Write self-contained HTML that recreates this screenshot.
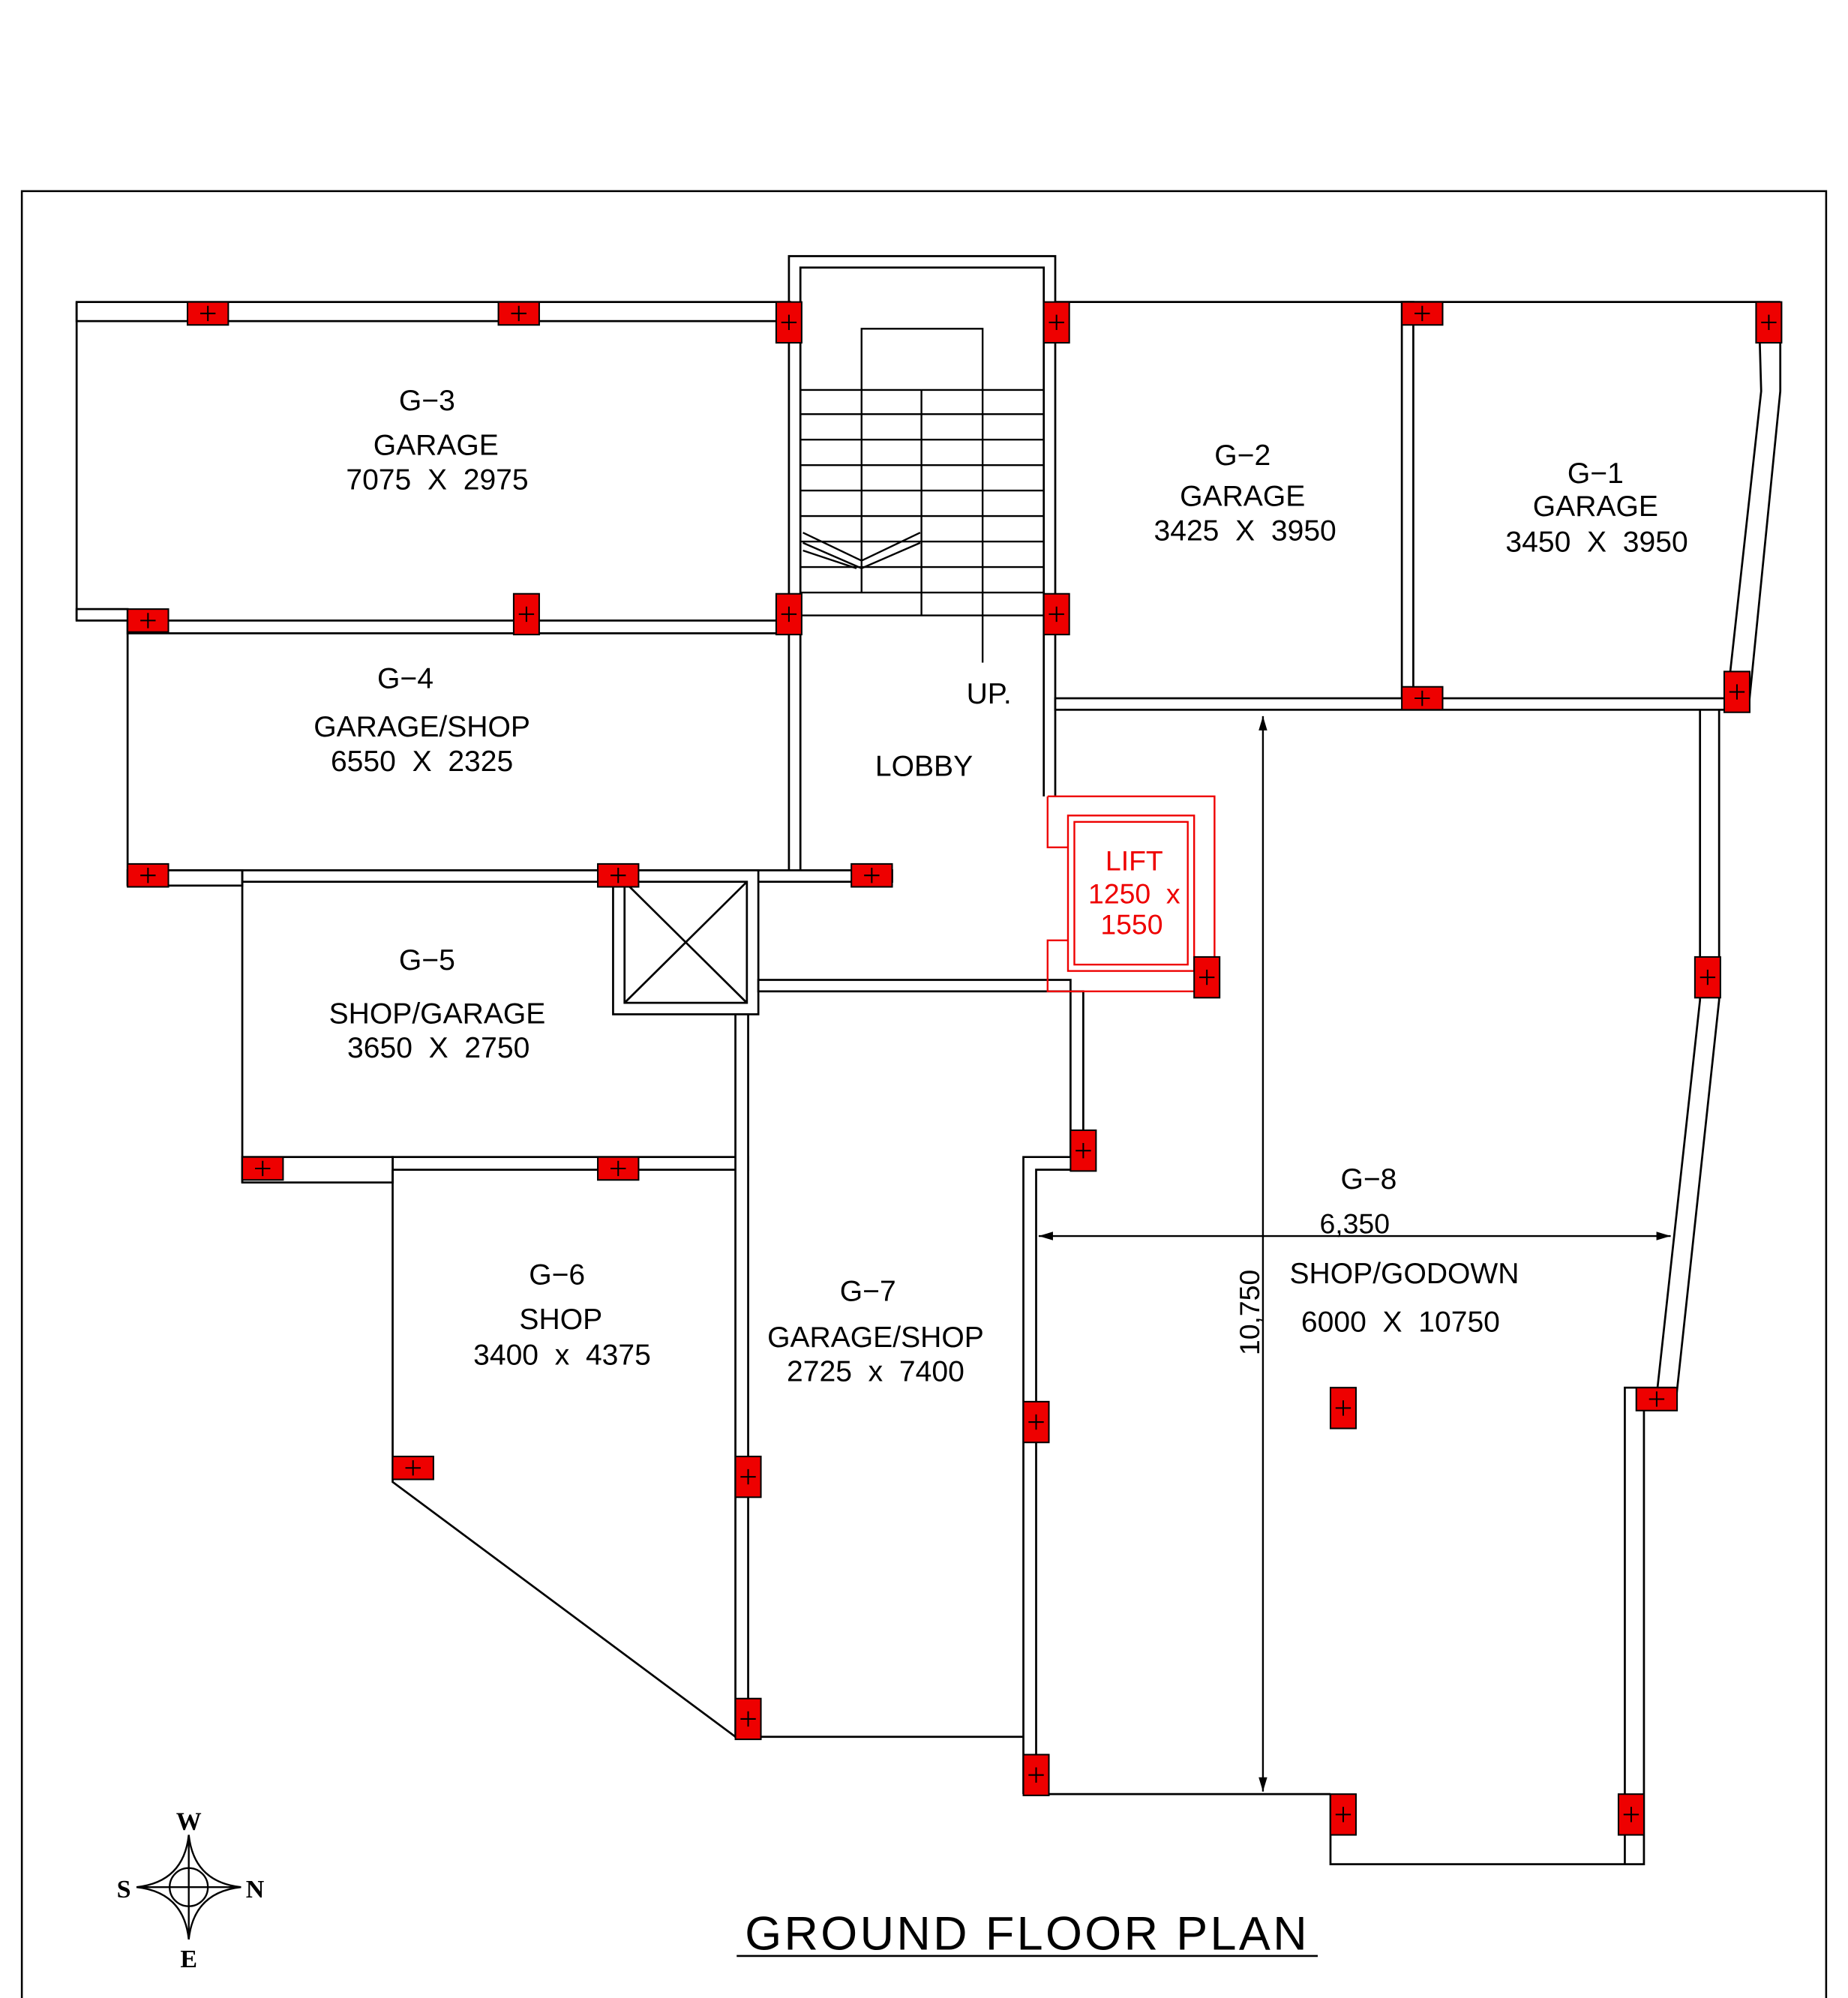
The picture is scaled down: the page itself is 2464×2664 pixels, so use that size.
<!DOCTYPE html>
<html><head><meta charset="utf-8"><style>
html,body{margin:0;padding:0;background:#fff}
svg{display:block}
text{font-family:"Liberation Sans",sans-serif;white-space:pre}
</style></head><body>
<svg width="2464" height="2664" viewBox="0 0 1450 1568" xmlns="http://www.w3.org/2000/svg" xml:space="preserve">
<defs>
<marker id="ar" viewBox="0 0 10 10" refX="10" refY="5" markerWidth="10" markerHeight="8" orient="auto-start-reverse"><path d="M0,2 L10,5 L0,8 z" fill="#000"/></marker>
</defs>
<rect x="17" y="150" width="1416" height="1430" fill="#fff" stroke="#000" stroke-width="1.5"/>
<g fill="#fff" stroke="#000" stroke-width="1.6">
<rect x="60" y="237" width="560" height="15"/>
<line x1="60" y1="237" x2="60" y2="487"/>
<rect x="60" y="478" width="40" height="9"/>
<rect x="100" y="487" width="520" height="10"/>
<path d="M619,683 V201 H828 V625 M628,683 V210 H819 V625" fill="none"/>
<line x1="828" y1="237" x2="1397" y2="237"/>
<rect x="1100" y="237" width="9" height="315"/>
<rect x="828" y="548" width="542" height="9"/>
<path d="M1380,237 L1382,307 L1355,552 M1397,237 L1397,307 L1372,557" fill="none"/>
<line x1="100" y1="487" x2="100" y2="695"/>
<rect x="130" y="683" width="570" height="9"/>
<rect x="100" y="683" width="90" height="12"/>
<rect x="481" y="683" width="114" height="113"/>
<rect x="490" y="692" width="96" height="95"/>
<line x1="490" y1="692" x2="586" y2="787"/><line x1="586" y1="692" x2="490" y2="787"/>
<rect x="595" y="769" width="245" height="9"/>
<line x1="190" y1="683" x2="190" y2="928"/>
<rect x="308" y="908" width="279" height="10"/>
<rect x="190" y="908" width="118" height="20"/>
<path d="M308,918 V1163 L577,1363" fill="none"/>
<rect x="577" y="796" width="10" height="567"/>
<line x1="577" y1="1363" x2="803" y2="1363"/>
<rect x="840" y="778" width="10" height="130"/>
<path d="M803,1408 V908 H850 V918 H813 V1408" fill="none"/>
<line x1="803" y1="1408" x2="1044" y2="1408"/>
<path d="M1044,1408 V1463 H1290 V1089 M1275,1463 V1089 H1315" fill="none"/>
<path d="M1334,557 L1334,785 L1300,1095 M1349,557 L1349,785 L1315,1100" fill="none"/>
</g>
<g stroke="#000" stroke-width="1.4" fill="none">
<path d="M676,306 V258 H771 V520"/>
<path d="M628,306 H819 M628,325 H819 M628,345 H819 M628,365 H819 M628,385 H819 M628,405 H819 M628,425 H819 M628,445 H819 M628,465 H819 M628,483 H819"/>
<line x1="723" y1="306" x2="723" y2="483"/>
<line x1="676" y1="306" x2="676" y2="465"/>
<path d="M630,418 L676,440 L722,418 M630,426 L676,446 L722,426 M630,432 L672,446"/>
</g>
<g stroke="#e00" stroke-width="1.4" fill="none">
<path d="M822,625 H953 V778 H822 V738 H838 M822,625 V665 H838"/>
<rect x="838" y="640" width="99" height="122"/>
<rect x="843" y="645" width="89" height="112"/>
</g>
<text x="890" y="683" font-size="22" fill="#e00" text-anchor="middle">LIFT</text>
<text x="890" y="709" font-size="22" fill="#e00" text-anchor="middle">1250  x</text>
<text x="888" y="733" font-size="22" fill="#e00" text-anchor="middle">1550</text>
<g stroke="#000" stroke-width="1.4">
<line x1="991" y1="562" x2="991" y2="1406" marker-start="url(#ar)" marker-end="url(#ar)"/>
<line x1="815" y1="970" x2="1311" y2="970" marker-start="url(#ar)" marker-end="url(#ar)"/>
</g>
<text x="1063" y="968" font-size="22" text-anchor="middle">6,350</text>
<text transform="translate(988,1030) rotate(-90)" font-size="22" text-anchor="middle">10,750</text>
<g fill="#e00" stroke="#000" stroke-width="1.2">
<rect x="147" y="237" width="32" height="18"/><rect x="391" y="237" width="32" height="18"/>
<rect x="609" y="237" width="20" height="32"/><rect x="819" y="237" width="20" height="32"/>
<rect x="1100" y="237" width="32" height="18"/><rect x="1378" y="237" width="20" height="32"/>
<rect x="100" y="478" width="32" height="18"/><rect x="403" y="466" width="20" height="32"/>
<rect x="609" y="466" width="20" height="32"/><rect x="819" y="466" width="20" height="32"/>
<rect x="1100" y="539" width="32" height="18"/><rect x="1353" y="527" width="20" height="32"/>
<rect x="100" y="678" width="32" height="18"/><rect x="469" y="678" width="32" height="18"/>
<rect x="668" y="678" width="32" height="18"/><rect x="937" y="751" width="20" height="32"/>
<rect x="1330" y="751" width="20" height="32"/>
<rect x="190" y="908" width="32" height="18"/><rect x="469" y="908" width="32" height="18"/>
<rect x="840" y="887" width="20" height="32"/><rect x="803" y="1100" width="20" height="32"/>
<rect x="1044" y="1089" width="20" height="32"/><rect x="1284" y="1089" width="32" height="18"/>
<rect x="308" y="1143" width="32" height="18"/><rect x="577" y="1143" width="20" height="32"/>
<rect x="577" y="1333" width="20" height="32"/><rect x="803" y="1377" width="20" height="32"/>
<rect x="1044" y="1408" width="20" height="32"/><rect x="1270" y="1408" width="20" height="32"/>
</g>
<g stroke="#000" stroke-width="1.2">
<path d="M157,246h12M163,240v12 M401,246h12M407,240v12 M613,253h12M619,247v12 M823,253h12M829,247v12 M1110,246h12M1116,240v12 M1382,253h12M1388,247v12 M110,487h12M116,481v12 M407,482h12M413,476v12 M613,482h12M619,476v12 M823,482h12M829,476v12 M1110,548h12M1116,542v12 M1357,543h12M1363,537v12 M110,687h12M116,681v12 M479,687h12M485,681v12 M678,687h12M684,681v12 M941,767h12M947,761v12 M1334,767h12M1340,761v12 M200,917h12M206,911v12 M479,917h12M485,911v12 M844,903h12M850,897v12 M807,1116h12M813,1110v12 M1048,1105h12M1054,1099v12 M1294,1098h12M1300,1092v12 M318,1152h12M324,1146v12 M581,1159h12M587,1153v12 M581,1349h12M587,1343v12 M807,1393h12M813,1387v12 M1048,1424h12M1054,1418v12 M1274,1424h12M1280,1418v12"/>
</g>
<g font-size="23" text-anchor="middle">
<text x="335" y="322">G−3</text><text x="342" y="357">GARAGE</text><text x="343" y="384">7075  X  2975</text>
<text x="975" y="365">G−2</text><text x="975" y="397">GARAGE</text><text x="977" y="424">3425  X  3950</text>
<text x="1252" y="379">G−1</text><text x="1252" y="405">GARAGE</text><text x="1253" y="433">3450  X  3950</text>
<text x="318" y="540">G−4</text><text x="331" y="578">GARAGE/SHOP</text><text x="331" y="605">6550  X  2325</text>
<text x="776" y="552">UP.</text><text x="725" y="609">LOBBY</text>
<text x="335" y="761">G−5</text><text x="343" y="803">SHOP/GARAGE</text><text x="344" y="830">3650  X  2750</text>
<text x="437" y="1008">G−6</text><text x="440" y="1043">SHOP</text><text x="441" y="1071">3400  x  4375</text>
<text x="681" y="1021">G−7</text><text x="687" y="1057">GARAGE/SHOP</text><text x="687" y="1084">2725  x  7400</text>
<text x="1074" y="933">G−8</text><text x="1102" y="1007">SHOP/GODOWN</text><text x="1099" y="1045">6000  X  10750</text>
</g>
<text x="806" y="1530" font-size="37" text-anchor="middle" letter-spacing="2">GROUND FLOOR PLAN</text>
<line x1="578" y1="1535" x2="1034" y2="1535" stroke="#000" stroke-width="1.6"/>
<g stroke="#000" stroke-width="1.4" fill="none">
<circle cx="148" cy="1481" r="15"/>
<line x1="148" y1="1440" x2="148" y2="1522"/><line x1="107" y1="1481" x2="189" y2="1481"/>
<path d="M148,1440 Q152,1477 189,1481 Q152,1485 148,1522 Q144,1485 107,1481 Q144,1477 148,1440z"/>
</g>
<g font-weight="bold" font-size="20" text-anchor="middle">
<text x="148" y="1436" style="font-family:'Liberation Serif',serif">W</text>
<text x="148" y="1544" style="font-family:'Liberation Serif',serif">E</text>
<text x="97" y="1489" style="font-family:'Liberation Serif',serif">S</text>
<text x="200" y="1489" style="font-family:'Liberation Serif',serif">N</text>
</g>
</svg>
</body></html>
